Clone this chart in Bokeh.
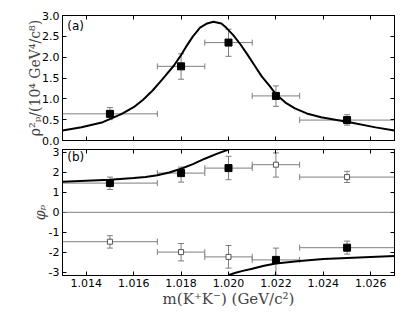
from bokeh.plotting import figure
from bokeh.layouts import column
from bokeh.models import (Range1d, LinearAxis, FixedTicker, Whisker, TeeHead,
                          ColumnDataSource, Span, Label)
from bokeh.embed import file_html
from bokeh.resources import INLINE

# ---------------- data ----------------
mass = [1.015, 1.018, 1.020, 1.022, 1.025]
mass_lo = [1.013, 1.017, 1.019, 1.021, 1.023]
mass_hi = [1.017, 1.019, 1.021, 1.023, 1.027]

rho2 = [0.64, 1.78, 2.35, 1.07, 0.49]
rho2_lo = [0.50, 1.47, 2.02, 0.82, 0.37]
rho2_hi = [0.79, 2.08, 2.67, 1.31, 0.62]

phi_fill = [1.46, 1.96, 2.21, -2.38, -1.77]
phi_fill_lo = [1.14, 1.51, 1.63, -3.14, -2.09]
phi_fill_hi = [1.76, 2.26, 2.80, -1.79, -1.44]

phi_open = [-1.47, -1.99, -2.23, 2.38, 1.76]
phi_open_lo = [-1.79, -2.43, -2.79, 1.76, 1.49]
phi_open_hi = [-1.17, -1.56, -1.66, 2.97, 2.05]

# fitted curves
fit_a_x = [1.0130, 1.0138, 1.0147, 1.0155, 1.0160, 1.0164, 1.0168, 1.0172,
           1.0177, 1.0180, 1.0182, 1.0185, 1.0188, 1.0191, 1.01936, 1.0197,
           1.0199, 1.0202, 1.0205, 1.0208, 1.0211, 1.0214, 1.02175, 1.0220,
           1.0224, 1.0228, 1.0233, 1.0239, 1.0251, 1.0262, 1.0270]
fit_a_y = [0.24, 0.32, 0.44, 0.64, 0.80, 0.98, 1.20, 1.46,
           1.80, 2.05, 2.24, 2.50, 2.71, 2.81, 2.85, 2.81,
           2.71, 2.53, 2.31, 2.06, 1.80, 1.54, 1.30, 1.11,
           0.91, 0.77, 0.65, 0.56, 0.44, 0.315, 0.24]

fit_b1_x = [1.013, 1.014, 1.015, 1.016, 1.0165, 1.017, 1.0175, 1.018, 1.0185,
            1.019, 1.0195, 1.020]
fit_b1_y = [1.53, 1.58, 1.63, 1.71, 1.77, 1.85, 1.99, 2.18, 2.41,
            2.68, 2.92, 3.14]
fit_b2_x = [1.020, 1.0203, 1.0206, 1.0210, 1.0215, 1.022, 1.023, 1.024,
            1.025, 1.026, 1.027]
fit_b2_y = [-3.14, -3.02, -2.93, -2.82, -2.67, -2.56, -2.43, -2.34,
            -2.28, -2.23, -2.18]

x_ticks = [1.014, 1.016, 1.018, 1.020, 1.022, 1.024, 1.026]
x_tick_labels = ["1.014", "1.016", "1.018", "1.020", "1.022", "1.024", "1.026"]
ya_ticks = [0.0, 0.5, 1.0, 1.5, 2.0, 2.5, 3.0]
ya_tick_labels = ["0.0", "0.5", "1.0", "1.5", "2.0", "2.5", "3.0"]
yb_ticks = [-3, -2, -1, 0, 1, 2, 3]
yb_tick_labels = ["-3", "-2", "-1", "0", "1", "2", "3"]

ERR = "#7f7f7f"
TICKFONT = "DejaVu Sans"
LABELFONT = "DejaVu Serif"


def style_axis(ax, ticks, labels=None, show_labels=True):
    ax.ticker = FixedTicker(ticks=ticks)
    ax.major_tick_in = 4
    ax.major_tick_out = 0
    ax.minor_tick_in = 0
    ax.minor_tick_out = 0
    ax.axis_line_color = "black"
    ax.major_tick_line_color = "black"
    if show_labels:
        ax.major_label_overrides = {t: l for t, l in zip(ticks, labels)}
        ax.major_label_text_font = TICKFONT
        ax.major_label_text_font_size = "11px"
        ax.major_label_text_color = "black"
        ax.major_label_standoff = 3
    else:
        ax.major_label_text_font_size = "1px"
        ax.major_label_text_color = None
        ax.major_label_standoff = 0


def add_errors(p, x, xlo, xhi, y, ylo, yhi):
    src = ColumnDataSource(dict(x=x, xlo=xlo, xhi=xhi, y=y, ylo=ylo, yhi=yhi))
    wy = Whisker(source=src, base="x", lower="ylo", upper="yhi",
                 dimension="height", line_color=ERR, line_width=1,
                 upper_head=TeeHead(size=6, line_color=ERR, line_width=1),
                 lower_head=TeeHead(size=6, line_color=ERR, line_width=1))
    wx = Whisker(source=src, base="y", lower="xlo", upper="xhi",
                 dimension="width", line_color=ERR, line_width=1,
                 upper_head=TeeHead(size=6, line_color=ERR, line_width=1),
                 lower_head=TeeHead(size=6, line_color=ERR, line_width=1))
    p.add_layout(wy)
    p.add_layout(wx)
    return src


x_range = Range1d(1.013, 1.027)

# ---------------- panel (a) ----------------
pa = figure(frame_width=332, frame_height=125, x_range=x_range,
            y_range=Range1d(0, 3.0), output_backend="svg",
            toolbar_location=None, min_border_left=62, min_border_top=15,
            min_border_right=15, min_border_bottom=7)
pa.grid.visible = False
pa.outline_line_color = "black"
pa.background_fill_color = "white"
style_axis(pa.xaxis[0], x_ticks, show_labels=False)
style_axis(pa.yaxis[0], ya_ticks, ya_tick_labels)
pa.yaxis[0].axis_label = "ρ²ₚ/(10⁴ GeV⁴/c⁸)"
pa.yaxis[0].axis_label_text_font = LABELFONT
pa.yaxis[0].axis_label_text_font_size = "14px"
pa.yaxis[0].axis_label_text_font_style = "normal"
pa.yaxis[0].axis_label_standoff = -4
ax_top = LinearAxis()
style_axis(ax_top, x_ticks, show_labels=False)
pa.add_layout(ax_top, "above")
ax_right = LinearAxis()
style_axis(ax_right, ya_ticks, show_labels=False)
pa.add_layout(ax_right, "right")

pa.line(fit_a_x, fit_a_y, line_color="black", line_width=2)
srca = add_errors(pa, mass, mass_lo, mass_hi, rho2, rho2_lo, rho2_hi)
pa.scatter("x", "y", source=srca, marker="square", size=7,
           fill_color="black", line_color="black")
pa.add_layout(Label(x=1.0132, y=2.74, text="(a)", text_baseline="middle",
                    text_font=TICKFONT, text_font_size="12px",
                    text_color="black"))

# ---------------- panel (b) ----------------
pb = figure(frame_width=332, frame_height=126, x_range=x_range,
            y_range=Range1d(-3.16, 3.14), output_backend="svg",
            toolbar_location=None, min_border_left=62, min_border_top=2,
            min_border_right=15, min_border_bottom=33)
pb.grid.visible = False
pb.outline_line_color = "black"
style_axis(pb.xaxis[0], x_ticks, x_tick_labels)
pb.xaxis[0].axis_label = "m(K⁺K⁻) (GeV/c²)"
pb.xaxis[0].axis_label_text_font = LABELFONT
pb.xaxis[0].axis_label_text_font_size = "15px"
pb.xaxis[0].axis_label_text_font_style = "normal"
pb.xaxis[0].axis_label_standoff = 0
style_axis(pb.yaxis[0], yb_ticks, yb_tick_labels)
pb.yaxis[0].axis_label = "φₚ"
pb.yaxis[0].axis_label_text_font = LABELFONT
pb.yaxis[0].axis_label_text_font_size = "14px"
pb.yaxis[0].axis_label_text_font_style = "italic"
pb.yaxis[0].axis_label_standoff = -2
bx_top = LinearAxis()
style_axis(bx_top, x_ticks, show_labels=False)
pb.add_layout(bx_top, "above")
bx_right = LinearAxis()
style_axis(bx_right, yb_ticks, show_labels=False)
pb.add_layout(bx_right, "right")

pb.add_layout(Span(location=0, dimension="width", line_color=ERR,
                   line_width=1))
pb.line(fit_b1_x, fit_b1_y, line_color="black", line_width=2)
pb.line(fit_b2_x, fit_b2_y, line_color="black", line_width=2)
srcf = add_errors(pb, mass, mass_lo, mass_hi, phi_fill, phi_fill_lo, phi_fill_hi)
srco = add_errors(pb, mass, mass_lo, mass_hi, phi_open, phi_open_lo, phi_open_hi)
pb.scatter("x", "y", source=srcf, marker="square", size=7,
           fill_color="black", line_color="black")
pb.scatter("x", "y", source=srco, marker="square", size=5,
           fill_color="white", line_color="#555555")
pb.add_layout(Label(x=1.0132, y=2.76, text="(b)", text_baseline="middle",
                    text_font=TICKFONT, text_font_size="12px",
                    text_color="black"))

layout = column(pa, pb, spacing=0)
open("out.html", "w").write(file_html(layout, INLINE))
